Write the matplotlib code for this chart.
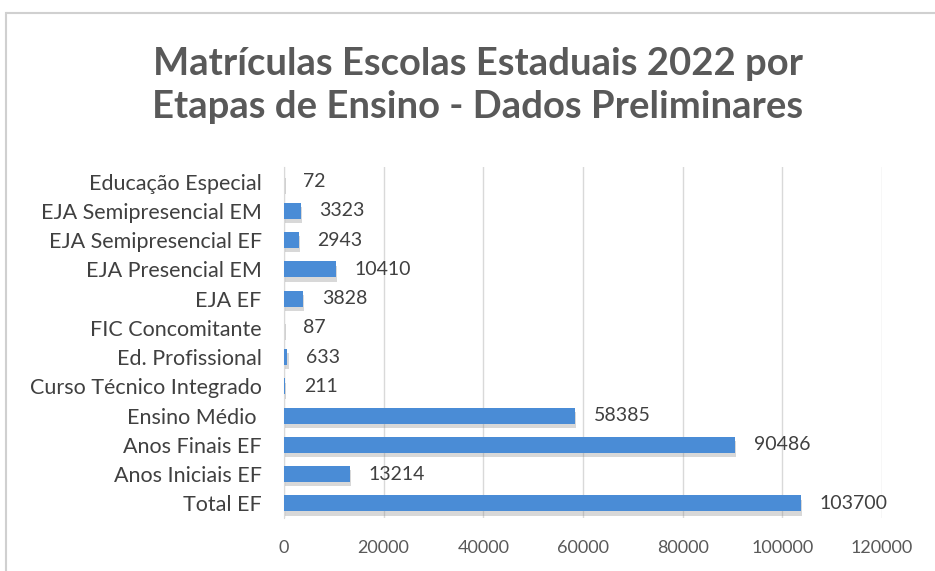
import matplotlib
matplotlib.use("Agg")
import matplotlib.pyplot as plt
from matplotlib import patheffects as pe
from matplotlib.lines import Line2D

categories = ["Total EF", "Anos Iniciais EF", "Anos Finais EF", "Ensino Médio ",
              "Curso Técnico Integrado", "Ed. Profissional", "FIC Concomitante",
              "EJA EF", "EJA Presencial EM", "EJA Semipresencial EF",
              "EJA Semipresencial EM", "Educação Especial"]
values = [103700, 13214, 90486, 58385, 211, 633, 87, 3828, 10410, 2943, 3323, 72]
xticks = [0, 20000, 40000, 60000, 80000, 100000, 120000]

plt.rcParams['font.family'] = ['Lato', 'DejaVu Sans']
fig = plt.figure(figsize=(9.35, 5.71), dpi=100)
ax = fig.add_axes([0.3037, 0.0928, 0.6396, 0.6147])

ypos = list(range(len(categories)))
bars = ax.barh(ypos, values, height=0.55, color="#4A8CD6", zorder=3)
for b in bars:
    b.set_path_effects([pe.SimplePatchShadow(offset=(1, -3), shadow_rgbFace="#808080", alpha=0.3),
                        pe.Normal()])

for y, v in zip(ypos, values):
    ax.text(v + 3800, y, str(v), va="center", ha="left", fontsize=14, color="#404040")

ax.set_xlim(0, 120000)
ax.set_ylim(-0.5, len(categories) - 0.5)
ax.set_yticks(ypos)
ax.set_yticklabels(categories, fontsize=15.5, color="#404040")
ax.set_xticks(xticks)
ax.set_xticklabels([str(t) for t in xticks], fontsize=13, color="#595959")
ax.tick_params(axis="both", length=0)
ax.tick_params(axis="y", pad=16)
ax.tick_params(axis="x", pad=16)
ax.grid(axis="x", color="#D9D9D9", linewidth=1, zorder=0)
for s in ["top", "right", "bottom"]:
    ax.spines[s].set_visible(False)
ax.spines["left"].set_color("#D9D9D9")

fig.text(0.511, 0.851, "Matrículas Escolas Estaduais 2022 por\nEtapas de Ensino - Dados Preliminares",
         ha="center", va="center", fontsize=27.5, fontweight="bold", color="#595959", linespacing=1.32)

fig.add_artist(Line2D([0.008, 1.0], [0.978, 0.978], transform=fig.transFigure, color="#D0D0D0", lw=1.5))
fig.add_artist(Line2D([0.006, 0.006], [0.0, 0.978], transform=fig.transFigure, color="#D0D0D0", lw=1.5))

fig.savefig("out.png", dpi=100)
